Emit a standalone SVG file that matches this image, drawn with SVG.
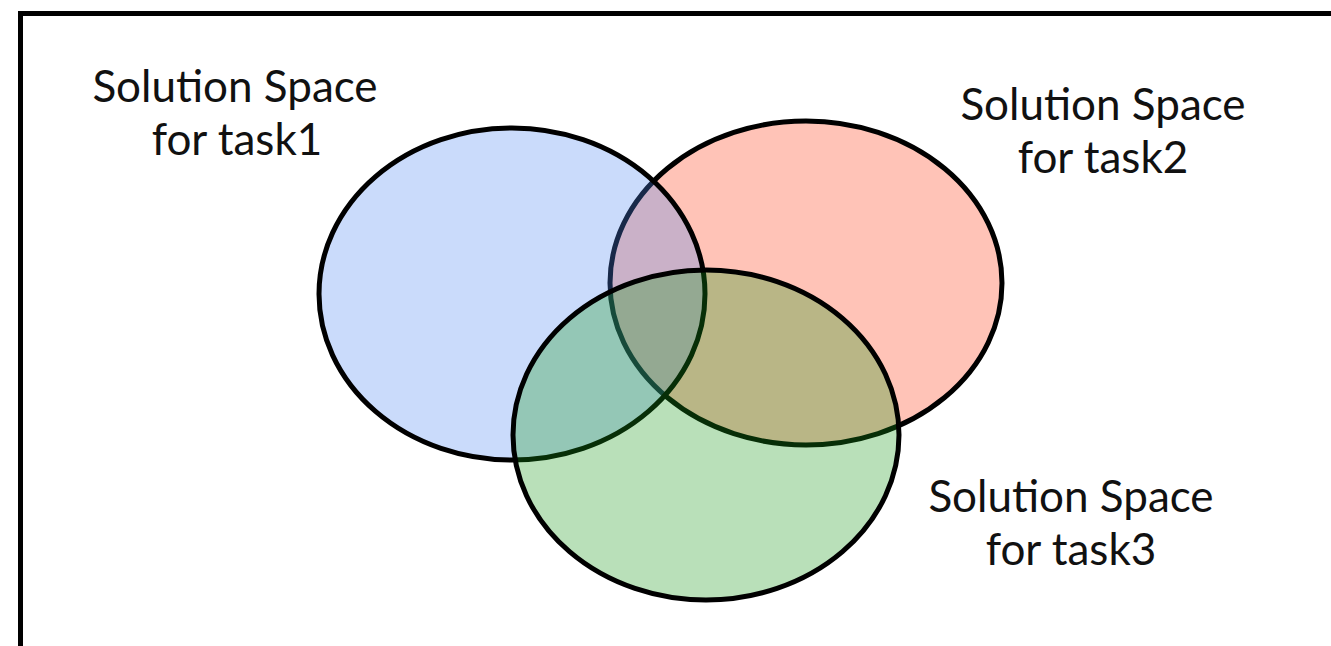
<svg xmlns="http://www.w3.org/2000/svg" width="1331" height="646" viewBox="0 0 1331 646">
<style>
.frame{fill:#ffffff;stroke:#000000;stroke-width:5}
.set{stroke:#000000;stroke-width:5}
.lbl{font-family:Lato,"Open Sans","Liberation Sans",sans-serif;font-size:44px;fill:#111111;text-anchor:middle}
</style>
<rect class="frame" x="20.5" y="13.5" width="1340" height="660"/>
<g id="task2">
<ellipse class="set" cx="806" cy="283" rx="196" ry="162" fill="#FFC3B7"/>
</g>
<g id="task1">
<ellipse class="set" cx="512" cy="294" rx="193" ry="166" fill="#4E87F2" fill-opacity="0.3"/>
</g>
<g id="task3">
<ellipse class="set" cx="706" cy="435" rx="193" ry="165" fill="#169816" fill-opacity="0.3"/>
</g>
<g id="connectors"></g>
<g id="label1">
<text class="lbl" x="235" y="102">Solution Space</text>
<text class="lbl" x="237" y="155">for task1</text>
</g>
<g id="label2">
<text class="lbl" x="1103" y="120">Solution Space</text>
<text class="lbl" x="1103" y="173">for task2</text>
</g>
<g id="label3">
<text class="lbl" x="1071" y="512">Solution Space</text>
<text class="lbl" x="1071" y="565">for task3</text>
</g>
</svg>
